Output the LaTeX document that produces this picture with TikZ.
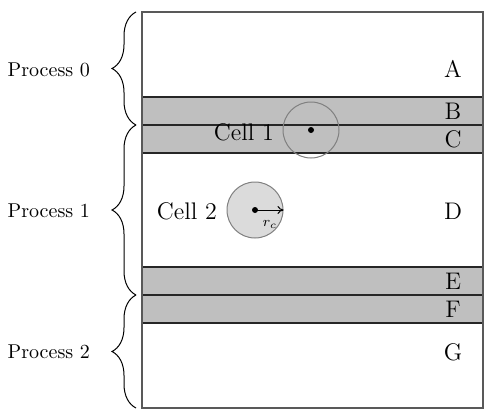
\documentclass[tikz,border=0pt]{standalone}
\usetikzlibrary{decorations.pathreplacing,arrows.meta}
\begin{document}
\begin{tikzpicture}[x=0.5pt,y=-0.5pt,
  outer/.style={draw=black!65,line width=0.7pt},
  bandline/.style={draw=black!85,line width=0.6pt},
  bracedec/.style={decorate,decoration={brace,amplitude=12pt},line width=0.5pt},
  letter/.style={font=\large},
  cellring/.style={draw=black!50,line width=0.5pt},
  dot/.style={fill=black,circle,inner sep=0pt,minimum size=3pt}]
\useasboundingbox (0,0) rectangle (488,412);
% bands
\fill[black!25] (142,97) rectangle (483,153);
\fill[black!25] (142,267) rectangle (483,323);
\draw[bandline] (142,97) -- (483,97) (142,125) -- (483,125) (142,153) -- (483,153);
\draw[bandline] (142,267) -- (483,267) (142,295) -- (483,295) (142,323) -- (483,323);
\draw[outer] (142,12) rectangle (483,408);
% letters
\node[letter] (A) at (453,69) {A};
\node[letter] (B) at (453,111) {B};
\node[letter] (C) at (453,139) {C};
\node[letter] (D) at (453,211) {D};
\node[letter] (E) at (453,281) {E};
\node[letter] (F) at (453,309) {F};
\node[letter] (G) at (453,352) {G};
% braces
\coordinate (b0t) at (136,12); \coordinate (b0b) at (136,125);
\coordinate (b1t) at (136,125); \coordinate (b1b) at (136,295);
\coordinate (b2t) at (136,295); \coordinate (b2b) at (136,408);
\draw[bracedec] (b0b) -- (b0t);
\draw[bracedec] (b1b) -- (b1t);
\draw[bracedec] (b2b) -- (b2t);
\node[anchor=east] (p0) at (97,70) {Process 0};
\node[anchor=east] (p1) at (97,211) {Process 1};
\node[anchor=east] (p2) at (97,352) {Process 2};
% cell 1
\node[cellring,circle,minimum size=28pt,inner sep=0pt] (c1) at (311,130) {};
\node[dot] (c1c) at (311,130) {};
\node[anchor=east,font=\large] (l1) at (281,132) {Cell 1};
% cell 2
\node[cellring,fill=black!14,circle,minimum size=28pt,inner sep=0pt] (c2) at (255,210) {};
\node[dot] (c2c) at (255,210) {};
\draw[-{To[length=3pt,width=4pt]},line width=0.5pt] (c2c.center) -- (c2.east);
\node[font=\scriptsize] (rc) at (270,224) {$r_c$};
\node[anchor=east,font=\large] (l2) at (224,211) {Cell 2};
\end{tikzpicture}
\end{document}
